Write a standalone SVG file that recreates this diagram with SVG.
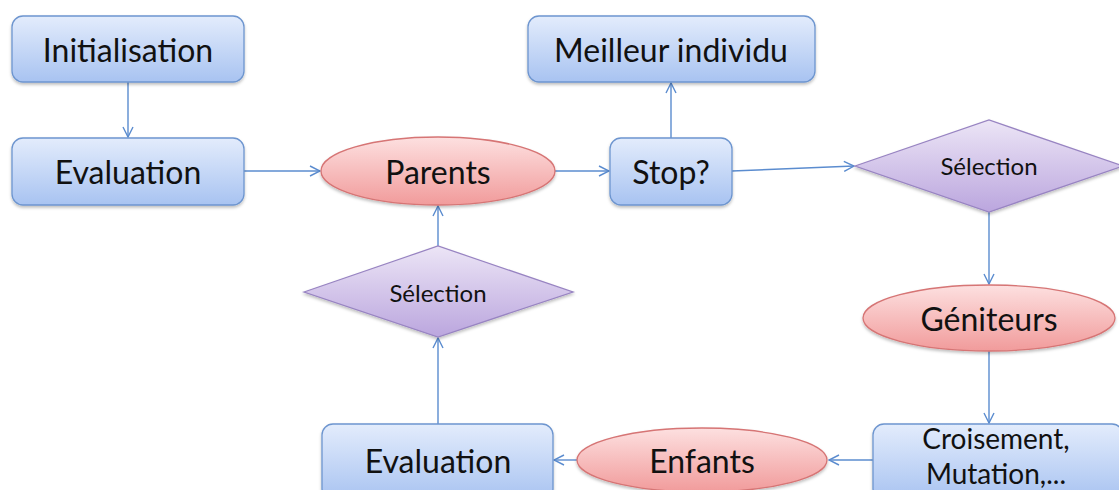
<svg xmlns="http://www.w3.org/2000/svg" width="1119" height="490" viewBox="0 0 1119 490">
<defs>
<linearGradient id="gBlue" x1="0" y1="0" x2="0" y2="1"><stop offset="0" stop-color="#e3ecfc"/><stop offset="1" stop-color="#a8c3f1"/></linearGradient>
<linearGradient id="gPink" x1="0" y1="0" x2="0" y2="1"><stop offset="0" stop-color="#fde0e0"/><stop offset="1" stop-color="#f19b9b"/></linearGradient>
<linearGradient id="gPurple" x1="0" y1="0" x2="0" y2="1"><stop offset="0" stop-color="#ece5f6"/><stop offset="1" stop-color="#bba6de"/></linearGradient>
<filter id="sh" x="-10%" y="-10%" width="120%" height="130%"><feDropShadow dx="0" dy="2" stdDeviation="1.5" flood-color="#000" flood-opacity="0.25"/></filter>
<marker id="ar" viewBox="0 0 12 12" refX="11" refY="6" markerWidth="12" markerHeight="12" markerUnits="userSpaceOnUse" orient="auto"><path d="M1,1 L11,6 L1,11" fill="none" stroke="#5b8ccf" stroke-width="1.4"/></marker>
</defs>
<style>
.box{fill:url(#gBlue);stroke:#6d95cf;stroke-width:1.3;filter:url(#sh)}
.ell{fill:url(#gPink);stroke:#d67474;stroke-width:1.3;filter:url(#sh)}
.dia{fill:url(#gPurple);stroke:#9884c2;stroke-width:1.3;filter:url(#sh)}
.t{font-family:Lato,"Liberation Sans",sans-serif;font-size:32px;fill:#111;text-anchor:middle;dominant-baseline:central}
.tm{font-family:Lato,"Liberation Sans",sans-serif;font-size:28px;fill:#111;text-anchor:middle;dominant-baseline:central}
.ts{font-family:Lato,"Liberation Sans",sans-serif;font-size:24px;fill:#111;text-anchor:middle;dominant-baseline:central}
.c{fill:none;stroke:#5b8ccf;stroke-width:1.4;marker-end:url(#ar)}
</style>
<rect width="1119" height="490" fill="#fff"/>
<g id="connectors">
<path class="c" d="M128,82 L128,137"/>
<path class="c" d="M244,171 L320,171"/>
<path class="c" d="M555,171 L609,171"/>
<path class="c" d="M671,138 L671,83"/>
<path class="c" d="M732,171 L854,166"/>
<path class="c" d="M989,212 L989,284"/>
<path class="c" d="M989,351 L989,423"/>
<path class="c" d="M873,460 L829,460"/>
<path class="c" d="M577,460 L554,460"/>
<path class="c" d="M438,424 L438,338"/>
<path class="c" d="M438,246 L438,206"/>
</g>
<g id="init"><rect class="box" x="12" y="16" width="232" height="66" rx="11"/><text class="t" x="128" y="49">Initialisation</text></g>
<g id="eval1"><rect class="box" x="12" y="138" width="232" height="67" rx="11"/><text class="t" x="128" y="171">Evaluation</text></g>
<g id="parents"><ellipse class="ell" cx="438" cy="171" rx="117" ry="34"/><text class="t" x="438" y="171">Parents</text></g>
<g id="stop"><rect class="box" x="610" y="138" width="122" height="67" rx="11"/><text class="t" x="671" y="171">Stop?</text></g>
<g id="best"><rect class="box" x="528" y="16" width="287" height="66" rx="11"/><text class="t" x="671" y="49">Meilleur individu</text></g>
<g id="sel1"><polygon class="dia" points="855,166 989,120 1123,166 989,212"/><text class="ts" x="989" y="165">Sélection</text></g>
<g id="geniteurs"><ellipse class="ell" cx="989" cy="318" rx="126" ry="33"/><text class="t" x="989" y="318">Géniteurs</text></g>
<g id="croisement"><rect class="box" x="873" y="424" width="250" height="76" rx="11"/><text class="tm" x="996" y="438">Croisement,</text><text class="tm" x="996" y="473">Mutation,...</text></g>
<g id="enfants"><ellipse class="ell" cx="702" cy="460" rx="125" ry="32"/><text class="t" x="702" y="460">Enfants</text></g>
<g id="eval2"><rect class="box" x="322" y="424" width="231" height="76" rx="11"/><text class="t" x="438" y="460">Evaluation</text></g>
<g id="sel2"><polygon class="dia" points="304,292 438,246 573,292 438,337"/><text class="ts" x="438" y="292">Sélection</text></g>
</svg>
